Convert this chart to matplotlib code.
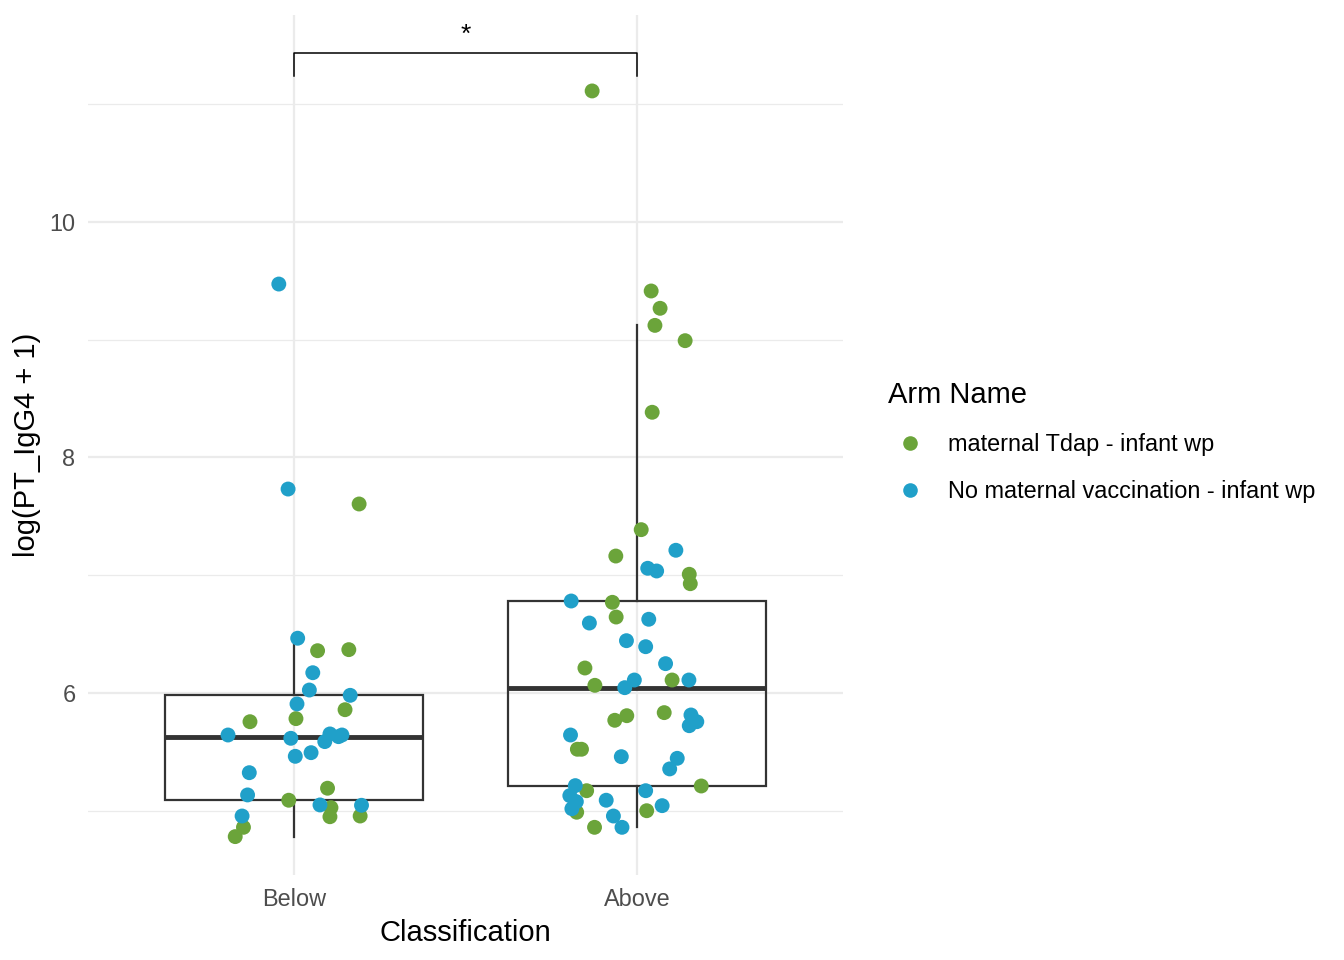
import matplotlib.pyplot as plt
import numpy as np

plt.rcParams['font.family'] = ['Liberation Sans', 'DejaVu Sans']

categories = ["Below", "Above"]
arms = ["maternal Tdap - infant wp", "No maternal vaccination - infant wp"]
colors = ["#6BA43A", "#20A0C9"]

# values, with horizontal jitter (in category units)
below_tdap = [7.605, 6.359, 6.368, 5.858, 5.756, 5.782, 5.191, 5.089, 5.026,
              4.949, 4.955, 4.859, 4.780]
below_tdap_jit = [0.190, 0.069, 0.160, 0.149, -0.128, 0.006, 0.098, -0.015,
                  0.108, 0.105, 0.193, -0.147, -0.171]
below_none = [9.473, 7.732, 6.465, 6.172, 6.025, 5.980, 5.907, 5.643, 5.615,
              5.652, 5.587, 5.629, 5.643, 5.493, 5.462, 5.323, 5.134, 5.049,
              5.046, 4.955]
below_none_jit = [-0.044, -0.017, 0.011, 0.055, 0.045, 0.164, 0.009, -0.192,
                  -0.009, 0.105, 0.090, 0.130, 0.140, 0.050, 0.004, -0.130,
                  -0.135, 0.076, 0.197, -0.151]
above_tdap = [11.113, 9.414, 9.267, 9.122, 8.992, 8.384, 7.387, 7.163, 7.008,
              6.928, 6.770, 6.645, 6.212, 6.110, 6.065, 5.807, 5.768, 5.833,
              5.522, 5.522, 5.210, 5.170, 4.987, 5.000, 4.859]
above_tdap_jit = [-0.131, 0.041, 0.067, 0.052, 0.140, 0.044, 0.012, -0.062,
                  0.152, 0.155, -0.072, -0.061, -0.152, 0.102, -0.123, -0.030,
                  -0.065, 0.079, -0.174, -0.162, 0.187, -0.147, -0.176, 0.028,
                  -0.124]
above_none = [7.212, 7.059, 7.036, 6.781, 6.626, 6.594, 6.444, 6.393, 6.249,
              6.110, 6.110, 6.045, 5.813, 5.756, 5.722, 5.643, 5.459, 5.445,
              5.355, 5.213, 5.170, 5.128, 5.077, 5.089, 5.017, 5.043, 4.955,
              4.859]
above_none_jit = [0.113, 0.031, 0.057, -0.192, 0.034, -0.139, -0.031, 0.025,
                  0.083, -0.008, 0.151, -0.036, 0.157, 0.174, 0.152, -0.194,
                  -0.046, 0.117, 0.095, -0.180, 0.025, -0.196, -0.177, -0.090,
                  -0.190, 0.073, -0.069, -0.044]

fig = plt.figure(figsize=(13.44, 9.6), dpi=100)
ax = fig.add_axes([88 / 1344, 85 / 960, 755 / 1344, 860 / 960])

grid_c = "#EBEBEB"

box_data = [below_tdap + below_none, above_tdap + above_none]
ax.boxplot(box_data, positions=[1, 2], widths=0.75, showfliers=False,
           patch_artist=True, whis=1.5,
           boxprops=dict(facecolor='none', edgecolor="#333333", lw=1.6),
           whiskerprops=dict(color="#333333", lw=1.6),
           capprops=dict(lw=0),
           medianprops=dict(color="#333333", lw=3.5), zorder=2)

groups = [(1, below_tdap, below_tdap_jit, 0), (1, below_none, below_none_jit, 1),
          (2, above_tdap, above_tdap_jit, 0), (2, above_none, above_none_jit, 1)]
for pos, vals, jit, ci in groups:
    ax.scatter(pos + np.array(jit), vals, s=115, color=colors[ci],
               edgecolors='none', zorder=3)

ax.set_xlim(0.4, 2.6)
ax.set_ylim(4.454, 11.758)
ax.set_yticks([6, 8, 10])
ax.set_yticks([5, 7, 9, 11], minor=True)
ax.set_xticks([1, 2])
ax.set_xticklabels(categories)
ax.grid(True, which='major', color=grid_c, lw=1.6, zorder=0)
ax.grid(True, which='minor', axis='y', color=grid_c, lw=0.9, zorder=0)
ax.set_axisbelow(True)
for s in ax.spines.values():
    s.set_visible(False)
ax.tick_params(which='both', length=0, labelsize=16.9, labelcolor="#4D4D4D")
ax.tick_params(axis='x', pad=9)
ax.tick_params(axis='y', pad=9)

# significance bracket
ax.plot([1, 1, 2, 2], [11.24, 11.435, 11.435, 11.24], color='black', lw=1.1,
        clip_on=False, zorder=4)
ax.text(1.5, 11.49, "*", ha='center', va='bottom', fontsize=19)

ax.set_xlabel("Classification", fontsize=21, labelpad=6)
ax.set_ylabel("log(PT_IgG4 + 1)", fontsize=21, labelpad=6)

handles = [plt.Line2D([], [], marker='o', ls='none', markersize=10.5,
                      markerfacecolor=c, markeredgecolor='none') for c in colors]
leg = fig.legend(handles, arms, title="Arm Name", loc='center left',
                 bbox_to_anchor=(867 / 1344, 1 - 442 / 960), frameon=False,
                 fontsize=16.9, title_fontsize=21, handlelength=1.88,
                 handletextpad=0.66, labelspacing=1.03)
leg._legend_box.align = "left"

fig.savefig("out.png", dpi=100)
